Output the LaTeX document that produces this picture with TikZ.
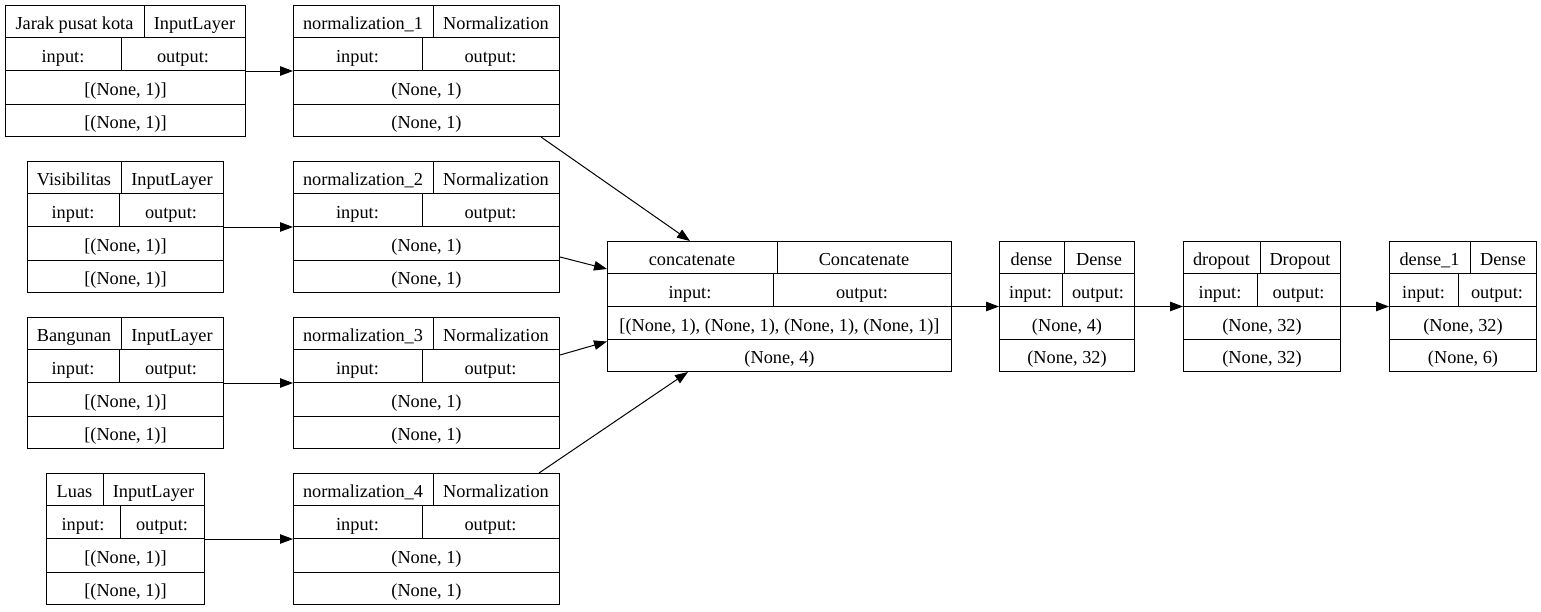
\documentclass[tikz,border=0pt]{standalone}
\usepackage{fontspec}
\setmainfont{Liberation Serif}
\usetikzlibrary{calc,arrows.meta}

\tikzset{
  layerframe/.style={draw=black, line width=1pt, inner sep=0pt, fill=white},
  divider/.style={draw=black, line width=1pt},
  celltext/.style={inner sep=0pt, anchor=base, font=\fontsize{18.3}{22}\selectfont},
  link/.style={draw=black, line width=1pt, -{Triangle[length=13pt,width=9.5pt]}},
}

% Baseline offset of a cell's text below the middle of its row
\def\basedrop{8.3}

% A layer table: name, left, top, right, bottom, title split, port split, layer name, class
\newcommand\layerbox[9]{%
  \pgfmathsetmacro\rowa{#3+(#5-#3)/4}%
  \pgfmathsetmacro\rowb{#3+(#5-#3)/2}%
  \node[layerframe, minimum width={(#4-#2)*1pt}, minimum height={(#5-#3)*1pt},
        anchor=north west] (#1) at (#2,#3) {};
  \draw[divider] (#2,\rowa) -- (#4,\rowa)
                 (#2,\rowb) -- (#4,\rowb)
                 ($(#1.north west)!0.75!(#1.south west)$) -- ($(#1.north east)!0.75!(#1.south east)$)
                 (#6,#3) -- (#6,\rowa)
                 (#7,\rowa) -- (#7,\rowb);
  \node[celltext] (#1-name)  at ({(#2+#6)/2},{(#3+\rowa)/2+\basedrop}) {#8};
  \node[celltext] (#1-class) at ({(#6+#4)/2},{(#3+\rowa)/2+\basedrop}) {#9};
  \node[celltext] (#1-inlbl) at ({(#2+#7)/2},{(\rowa+\rowb)/2+\basedrop}) {input:};
  \node[celltext] (#1-outlbl) at ({(#7+#4)/2},{(\rowa+\rowb)/2+\basedrop}) {output:};
}
% Shape rows of a layer table: name, input shape, output shape
\newcommand\layershapes[3]{%
  \node[celltext] (#1-inshape)  at ($(#1.north)!0.625!(#1.south)+(0,\basedrop)$) {#2};
  \node[celltext] (#1-outshape) at ($(#1.north)!0.875!(#1.south)+(0,\basedrop)$) {#3};
}

\begin{document}
\begin{tikzpicture}[x=1pt, y=-1pt]
\useasboundingbox[fill=white] (0,0) rectangle (1541,611);

% input layers
\layerbox{inA}{5}{5}{245}{136}{144}{121}{Jarak pusat kota}{InputLayer}
\layershapes{inA}{[(None, 1)]}{[(None, 1)]}
\layerbox{inB}{27}{161}{223}{292}{121}{119}{Visibilitas}{InputLayer}
\layershapes{inB}{[(None, 1)]}{[(None, 1)]}
\layerbox{inC}{27}{317}{223}{448}{121}{119}{Bangunan}{InputLayer}
\layershapes{inC}{[(None, 1)]}{[(None, 1)]}
\layerbox{inD}{46}{473}{204}{604}{103}{120}{Luas}{InputLayer}
\layershapes{inD}{[(None, 1)]}{[(None, 1)]}

% normalization layers
\layerbox{normA}{293}{5}{559}{136}{433}{422}{normalization\_1}{Normalization}
\layershapes{normA}{(None, 1)}{(None, 1)}
\layerbox{normB}{293}{161}{559}{292}{433}{422}{normalization\_2}{Normalization}
\layershapes{normB}{(None, 1)}{(None, 1)}
\layerbox{normC}{293}{317}{559}{448}{433}{422}{normalization\_3}{Normalization}
\layershapes{normC}{(None, 1)}{(None, 1)}
\layerbox{normD}{293}{473}{559}{604}{433}{422}{normalization\_4}{Normalization}
\layershapes{normD}{(None, 1)}{(None, 1)}

% merge and head
\layerbox{concat}{607}{241}{951}{371}{777}{773}{concatenate}{Concatenate}
\layershapes{concat}{[(None, 1), (None, 1), (None, 1), (None, 1)]}{(None, 4)}
\layerbox{dense}{999}{241}{1134}{371}{1064}{1062}{dense}{Dense}
\layershapes{dense}{(None, 4)}{(None, 32)}
\layerbox{drop}{1183}{241}{1340}{371}{1260}{1257}{dropout}{Dropout}
\layershapes{drop}{(None, 32)}{(None, 32)}
\layerbox{denseB}{1389}{241}{1536}{371}{1470}{1458}{dense\_1}{Dense}
\layershapes{denseB}{(None, 32)}{(None, 6)}

% connections
\draw[link] (inA) -- (normA);
\draw[link] (inB) -- (normB);
\draw[link] (inC) -- (normC);
\draw[link] (inD) -- (normD);
\draw[link] ($(normA.south east)+(-19,0)$) -- ($(concat.north west)+(83,0)$);
\draw[link] ($(normB.east)+(0,30)$) -- ($(concat.west)+(0,-37.5)$);
\draw[link] ($(normC.east)+(0,-28)$) -- ($(concat.west)+(0,35)$);
\draw[link] ($(normD.north east)+(-21,0)$) -- ($(concat.south west)+(81,0)$);
\draw[link] (concat) -- (dense);
\draw[link] (dense) -- (drop);
\draw[link] (drop) -- (denseB);
\end{tikzpicture}
\end{document}
